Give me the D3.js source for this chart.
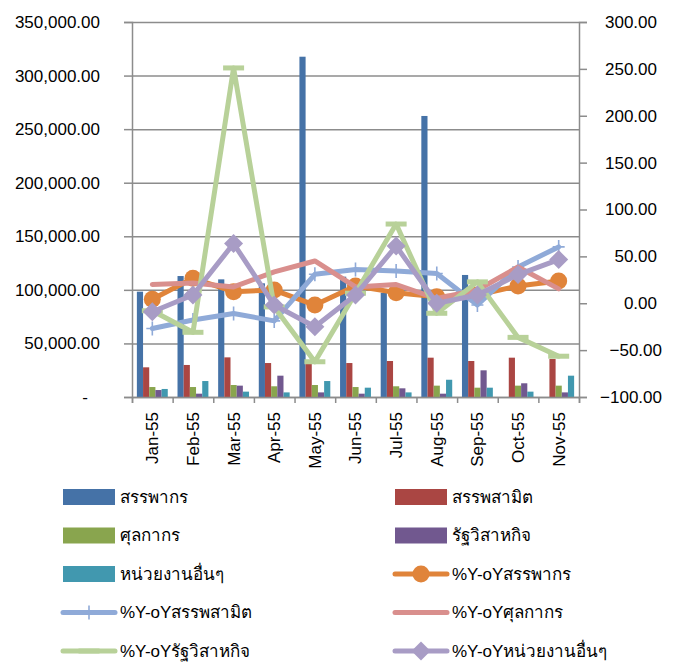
<!DOCTYPE html>
<html>
<head>
<meta charset="utf-8">
<script src="https://cdn.jsdelivr.net/npm/d3@7"></script>
<style>
  body { margin: 0; background: #fff; }
  svg text { font-family: "Liberation Sans", Arial, sans-serif; font-size: 17px; fill: #000; }
</style>
</head>
<body>
<svg id="chart" width="677" height="662"></svg>
<script>
// categories
const months = ['Jan-55', 'Feb-55', 'Mar-55', 'Apr-55', 'May-55', 'Jun-55', 'Jul-55', 'Aug-55', 'Sep-55', 'Oct-55', 'Nov-55'];

// bar series (left axis)
const revenueDept = [98300, 112900, 109800, 106100, 317600, 112300, 97300, 262300, 113900, null, null];
const exciseDept = [27700, 29900, 37000, 31700, 31000, 31700, 33600, 36700, 33600, 36700, 35500];
const customsDept = [9300, 9300, 11200, 10000, 11200, 9300, 10000, 10600, 8700, 10600, 10600];
const stateEnterprise = [6500, 3100, 10600, 19900, 4300, 3100, 8100, 3100, 24900, 12800, 4300];
const otherAgencies = [7500, 14900, 5000, 4300, 14900, 8700, 4300, 16100, 8700, 5000, 19900];

// %Y-oY series (right axis)
const yoyRevenue = [4.2, 26.6, 12.3, 14.1, -1.9, 18.4, 11.3, 7.0, 8.8, 18.4, 23.7];
const yoyExcise = [-27, -17.9, -10.9, -18.8, 30.9, 35.9, 34.5, 31.7, -1.9, 38.7, 60.1];
const yoyCustoms = [20, 21.7, 17.4, 33.4, 45.1, 17.4, 20, 5, 14.1, 38.7, 15.3];
const yoyStateEnt = [-8, -31, 251, -3.9, -62.4, 10.7, 84.5, -10.7, 22.8, -36.4, -56.5];
const yoyOther = [-9, 8.8, 63.7, -1.9, -25, 8.8, 61, 0, 8.8, 30.6, 46.6];

// tick values
const leftTicks = [0, 50000, 100000, 150000, 200000, 250000, 300000, 350000];
const rightTicks = [-100, -50, 0, 50, 100, 150, 200, 250, 300];

const barSeries = [
  { name: 'สรรพากร', values: revenueDept, color: '#4572A7' },
  { name: 'สรรพสามิต', values: exciseDept, color: '#AA4643' },
  { name: 'ศุลกากร', values: customsDept, color: '#89A54E' },
  { name: 'รัฐวิสาหกิจ', values: stateEnterprise, color: '#71588F' },
  { name: 'หน่วยงานอื่นๆ', values: otherAgencies, color: '#4198AF' }
];
const lineSeries = [
  { name: '%Y-oYสรรพากร', values: yoyRevenue, color: '#E0843A', marker: 'circle' },
  { name: '%Y-oYสรรพสามิต', values: yoyExcise, color: '#8FAAD8', marker: 'plus' },
  { name: '%Y-oYศุลกากร', values: yoyCustoms, color: '#D98F8D', marker: 'none' },
  { name: '%Y-oYรัฐวิสาหกิจ', values: yoyStateEnt, color: '#B8D199', marker: 'dash' },
  { name: '%Y-oYหน่วยงานอื่นๆ', values: yoyOther, color: '#A89CC5', marker: 'diamond' }
];

const svg = d3.select('#chart');
const plotL = 132, plotR = 579, plotT = 22, plotB = 397;
const gridColor = '#8c8c8c';

const x = d3.scaleBand().domain(months).range([plotL, plotR]);
const xBar = d3.scaleBand().domain(months).range([plotL, plotR]).paddingInner(0.24).paddingOuter(0.12);
const xSub = d3.scaleBand().domain(barSeries.map(d => d.name)).range([0, xBar.bandwidth()]);
const xEdge = d3.scaleLinear().domain([0, months.length]).range([plotL, plotR]);
const yLeft = d3.scaleLinear().domain([0, 350000]).range([plotB, plotT]);
const yRight = d3.scaleLinear().domain([-100, 300]).range([plotB, plotT]);

// gridlines
svg.append('g')
  .attr('transform', `translate(${plotL},0)`)
  .call(d3.axisLeft(yLeft).tickValues(leftTicks).tickSize(-(plotR - plotL)).tickFormat(''))
  .call(g => g.select('.domain').remove())
  .call(g => g.selectAll('line').attr('stroke', gridColor).attr('stroke-width', 1.5));

// bars
const barG = svg.append('g');
barSeries.forEach(s => {
  barG.selectAll(null)
    .data(months.map((m, i) => ({ m, v: s.values[i] })).filter(d => d.v != null))
    .enter()
    .append('rect')
    .attr('x', d => xBar(d.m) + xSub(s.name))
    .attr('y', d => yLeft(d.v))
    .attr('width', xSub.bandwidth())
    .attr('height', d => yLeft(0) - yLeft(d.v))
    .attr('fill', s.color);
});

// axes
const leftFmt = d => d === 0 ? '-' : d3.format(',.2f')(d);
svg.append('g')
  .attr('transform', `translate(${plotL},0)`)
  .call(d3.axisLeft(yLeft).tickValues(leftTicks).tickSize(8).tickPadding(24).tickFormat(leftFmt))
  .call(g => g.select('.domain').attr('stroke', gridColor).attr('stroke-width', 1.5))
  .call(g => g.selectAll('line').attr('stroke', gridColor).attr('stroke-width', 1.5))
  .call(g => g.selectAll('text').attr('dx', d => d === 0 ? -12 : 0));

svg.append('g')
  .attr('transform', `translate(${plotR},0)`)
  .call(d3.axisRight(yRight).tickValues(rightTicks).tickSize(8).tickFormat(d3.format('.2f')))
  .call(g => g.select('.domain').attr('stroke', gridColor).attr('stroke-width', 1.5))
  .call(g => g.selectAll('line').attr('stroke', gridColor).attr('stroke-width', 1.5))
  .call(g => g.selectAll('text')
    .attr('text-anchor', 'end')
    .attr('x', d => d < 0 ? 83 : 78));

svg.append('g')
  .attr('transform', `translate(0,${plotB})`)
  .call(d3.axisBottom(xEdge).tickValues(d3.range(months.length + 1)).tickSize(6).tickFormat(''))
  .call(g => g.select('.domain').attr('stroke', gridColor).attr('stroke-width', 1.5))
  .call(g => g.selectAll('line').attr('stroke', gridColor).attr('stroke-width', 1.5));

svg.append('g')
  .attr('transform', `translate(0,${plotB})`)
  .call(d3.axisBottom(x).tickSize(0))
  .call(g => g.select('.domain').remove())
  .call(g => g.selectAll('text')
    .attr('transform', 'rotate(-90)')
    .attr('text-anchor', 'end')
    .attr('x', -15)
    .attr('y', 0)
    .attr('dy', '0.35em'));

// markers
function drawMarker(g, type, color, cx, cy) {
  if (type === 'circle') {
    g.append('circle').attr('cx', cx).attr('cy', cy).attr('r', 8.5).attr('fill', color);
  } else if (type === 'diamond') {
    g.append('path').attr('d', d3.symbol(d3.symbolDiamond2, 230)()).attr('transform', `translate(${cx},${cy})`).attr('fill', color);
  } else if (type === 'plus') {
    g.append('path').attr('d', `M${cx - 6},${cy}H${cx + 6}M${cx},${cy - 7}V${cy + 7}`)
      .attr('stroke', color).attr('stroke-width', 1.6);
  } else if (type === 'dash') {
    g.append('rect').attr('x', cx - 10.5).attr('y', cy - 2.5).attr('width', 21).attr('height', 5).attr('fill', color);
  }
}

// lines
const line = d3.line().x((d, i) => x(months[i]) + x.bandwidth() / 2).y(d => yRight(d));
lineSeries.forEach(s => {
  const g = svg.append('g');
  g.append('path')
    .attr('d', line(s.values))
    .attr('fill', 'none')
    .attr('stroke', s.color)
    .attr('stroke-width', 5)
    .attr('stroke-linejoin', 'round')
    .attr('stroke-linecap', 'round');
  s.values.forEach((v, i) => drawMarker(g, s.marker, s.color, x(months[i]) + x.bandwidth() / 2, yRight(v)));
});

// legend
const legendItems = barSeries.map(d => ({ ...d, kind: 'bar' })).concat(lineSeries.map(d => ({ ...d, kind: 'line' })));
const legendX = [63, 395];
const legendY = d3.scaleLinear().domain([0, 4]).range([497, 651]);
legendItems.forEach((d, i) => {
  const lx = legendX[i % 2], ly = legendY(Math.floor(i / 2));
  const g = svg.append('g');
  if (d.kind === 'bar') {
    g.append('rect').attr('x', lx).attr('y', ly - 8).attr('width', 52).attr('height', 16).attr('fill', d.color);
  } else {
    g.append('line').attr('x1', lx).attr('x2', lx + 52).attr('y1', ly).attr('y2', ly)
      .attr('stroke', d.color).attr('stroke-width', 5).attr('stroke-linecap', 'round');
    drawMarker(g, d.marker, d.color, lx + 26, ly);
  }
  g.append('text').attr('x', lx + 57).attr('y', ly).attr('dy', '0.35em').text(d.name);
});
</script>
</body>
</html>
